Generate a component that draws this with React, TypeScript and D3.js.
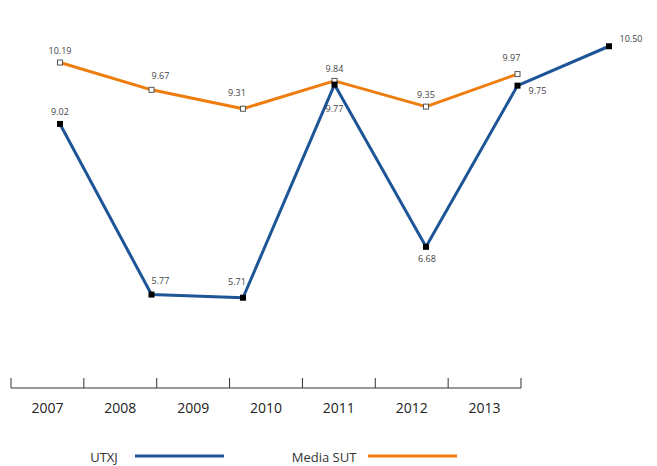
import React from "react";
import * as d3 from "d3";

// chart values
const years = ["2007", "2008", "2009", "2010", "2011", "2012", "2013"];
const utxj = [9.02, 5.77, 5.71, 9.77, 6.68, 9.75, 10.5];
const mediaSut = [10.19, 9.67, 9.31, 9.84, 9.35, 9.97];
const utxjLabelPos = ["above", "aboveRight", "aboveLeft", "belowFar", "below", "right", "upperRight"];
const sutLabelPos = ["above", "aboveRight", "aboveLeft", "above", "above", "aboveLeft"];

const BLUE = "#1d5597";
const ORANGE = "#ee7d0e";
const FONT = "'Open Sans', 'DejaVu Sans', sans-serif";

const offsets: Record<string, [number, number]> = {
  above: [0, -9],
  aboveRight: [9, -11],
  aboveLeft: [-6, -13],
  below: [1, 15],
  belowFar: [0, 27],
  right: [20, 8],
  upperRight: [22, -4],
};

export default function App() {
  const width = 657;
  const height = 466;

  // the axis bands and the plotted points don't line up in the original
  const xAxis = d3.scaleBand<string>().domain(years).range([11, 521]);
  const xPoint = d3.scalePoint<string>().domain(years).range([60, 609]);
  const y = d3.scaleLinear().domain([5, 11]).range([335, 20]);
  const axisY = 388;

  const line = d3
    .line<number>()
    .x((_, i) => xPoint(years[i])!)
    .y((d) => y(d));

  const fmt = d3.format(".2f");
  const tickXs = [...years.map((yr) => xAxis(yr)!), xAxis.range()[1]];

  return (
    <svg width={width} height={height} style={{ position: "absolute", left: 0, top: 0 }}>
      <rect width={width} height={height} fill="#fff" />

      {/* series lines */}
      <path d={line(mediaSut) ?? ""} fill="none" stroke={ORANGE} strokeWidth={3} strokeLinejoin="round" />
      <path d={line(utxj) ?? ""} fill="none" stroke={BLUE} strokeWidth={3} strokeLinejoin="round" />

      {/* markers */}
      {mediaSut.map((v, i) => (
        <rect key={"s" + i} x={xPoint(years[i])! - 2.5} y={y(v) - 2.5} width={5} height={5}
          fill="#fff" stroke="#555" strokeWidth={1} />
      ))}
      {utxj.map((v, i) => (
        <rect key={"u" + i} x={xPoint(years[i])! - 3} y={y(v) - 3} width={6} height={6} fill="#000" />
      ))}

      {/* value labels */}
      {mediaSut.map((v, i) => {
        const [dx, dy] = offsets[sutLabelPos[i]];
        return (
          <text key={"sl" + i} x={xPoint(years[i])! + dx} y={y(v) + dy} textAnchor="middle"
            fontFamily={FONT} fontSize={9} fill="#444">{fmt(v)}</text>
        );
      })}
      {utxj.map((v, i) => {
        const [dx, dy] = offsets[utxjLabelPos[i]];
        return (
          <text key={"ul" + i} x={xPoint(years[i])! + dx} y={y(v) + dy} textAnchor="middle"
            fontFamily={FONT} fontSize={9} fill="#444">{fmt(v)}</text>
        );
      })}

      {/* category axis */}
      <line x1={11} x2={521} y1={axisY} y2={axisY} stroke="#333" strokeWidth={1} />
      {tickXs.map((tx, i) => (
        <line key={"t" + i} x1={tx} x2={tx} y1={axisY - 10} y2={axisY} stroke="#333" strokeWidth={1} />
      ))}
      {years.map((yr) => (
        <text key={yr} x={xAxis(yr)! + xAxis.bandwidth() / 2} y={axisY + 25} textAnchor="middle"
          fontFamily={FONT} fontSize={14} fill="#222">{yr}</text>
      ))}

      {/* legend */}
      <text x={104} y={462} textAnchor="middle" fontFamily={FONT} fontSize={13} fill="#333">UTXJ</text>
      <line x1={135} x2={224} y1={456} y2={456} stroke={BLUE} strokeWidth={3} />
      <text x={324} y={462} textAnchor="middle" fontFamily={FONT} fontSize={13} fill="#333">Media SUT</text>
      <line x1={368} x2={457} y1={456} y2={456} stroke={ORANGE} strokeWidth={3} />
    </svg>
  );
}
